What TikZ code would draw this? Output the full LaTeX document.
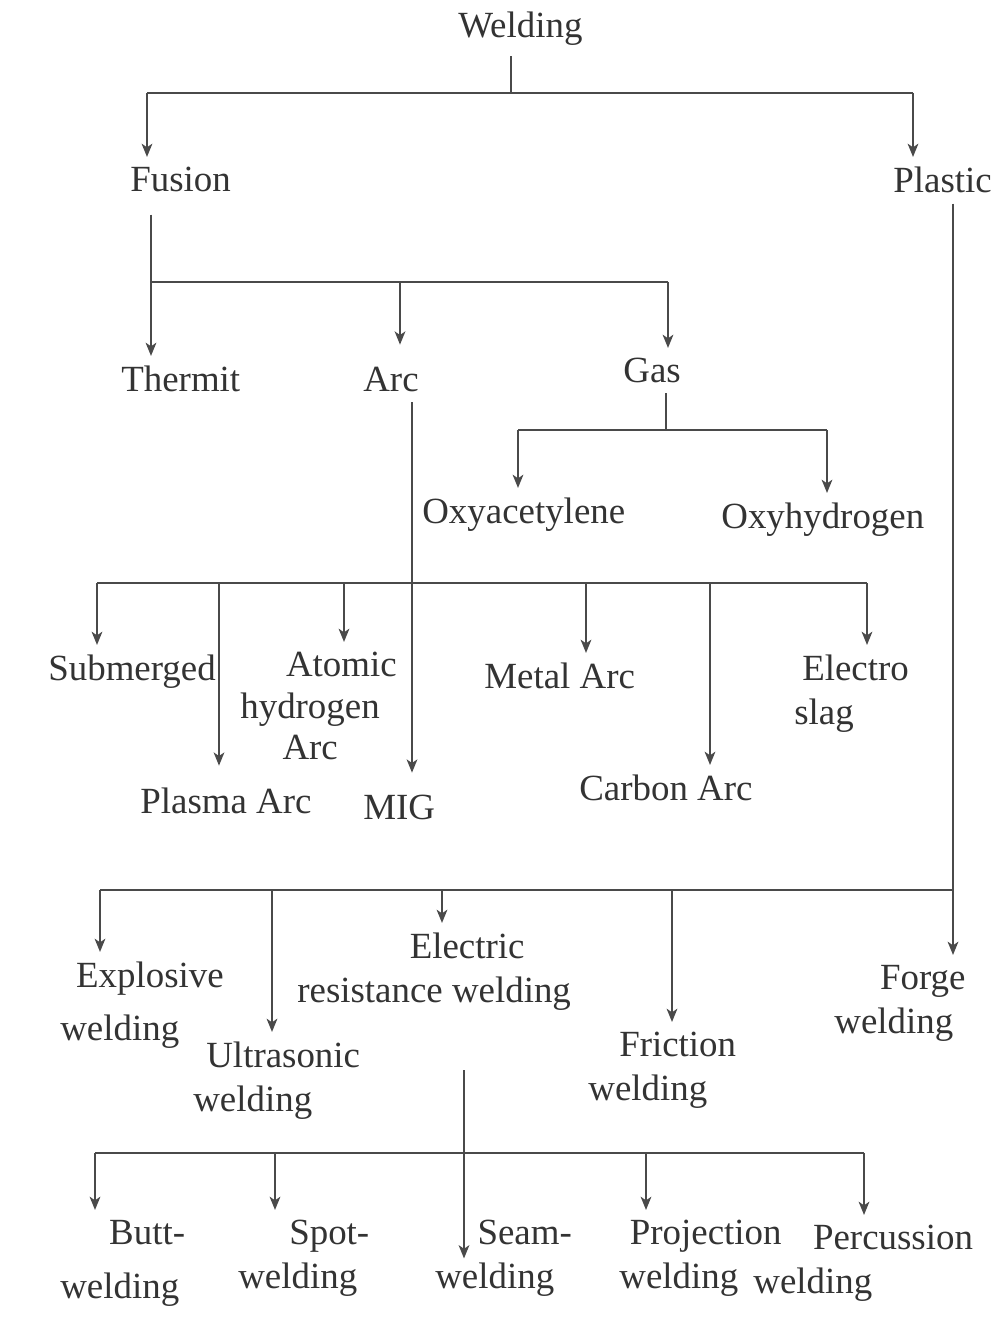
\documentclass[tikz,border=0pt]{standalone}
\usepackage{fontspec}
\setmainfont{Liberation Serif}
\usetikzlibrary{arrows.meta}
\definecolor{inkgray}{HTML}{333333}
\definecolor{linegray}{HTML}{4A4A4A}

\begin{document}
\begin{tikzpicture}[
x=0.02cm, y=-0.02cm,
font=\fontsize{21pt}{25pt}\selectfont,
lbl/.style={
anchor=north west, align=left,
inner xsep=0pt, inner ysep=5.67pt,
text=inkgray
},
wire/.style={draw=linegray, line width=1.4pt},
arrow/.style={wire, -{Stealth[length=7.5pt,width=6pt,inset=2pt]}}
]

\useasboundingbox (0,0) rectangle (996,1334);

% =======================
% TOP LEVELS
% =======================

\node[lbl] (welding) at (458,2) {Welding};
\node[lbl] (fusion) at (130,157) {Fusion};
\node[lbl] (plastic) at (893,157) {Plastic};

\node[lbl] (thermit) at (121,356) {Thermit};
\node[lbl] (arc) at (363,357) {Arc};
\node[lbl] (gas) at (623,348) {Gas};

% =======================
% GAS
% =======================

\node[lbl] (oxyac) at (422,488) {Oxyacetylene};
\node[lbl] (oxyhy) at (721,493) {Oxyhydrogen};

% =======================
% ARC
% =======================

\node[lbl] (submerged) at (48,645) {Submerged};
\node[lbl] (atomic) at (240,642) {\hspace*{26pt}Atomic\\[-1.5pt]hydrogen\\[-1.5pt]\hspace*{24pt}Arc};
\node[lbl] (metal) at (484,653) {Metal Arc};
\node[lbl] (electro) at (794,645) {\hspace*{4.5pt}Electro\\slag};
\node[lbl] (plasma) at (140,778) {Plasma Arc};
\node[lbl] (mig) at (363,785) {MIG};
\node[lbl] (carbon) at (579,765) {Carbon Arc};

% =======================
% PLASTIC
% =======================

\node[lbl] (explosive) at (60,952) {\hspace*{9pt}Explosive\\[5pt]welding};
\node[lbl] (ultrasonic) at (193,1032) {\hspace*{7.4pt}Ultrasonic\\welding};
\node[lbl] (electric) at (297,923) {\hspace*{64pt}Electric\\resistance welding};
\node[lbl] (friction) at (588,1022) {\hspace*{17.6pt}Friction\\welding};
\node[lbl] (forge) at (834,955) {\hspace*{26pt}Forge\\welding};

% =======================
% RESISTANCE
% =======================

\node[lbl] (butt) at (60,1210) {\hspace*{27.8pt}Butt-\\[6pt]welding};
\node[lbl] (spot) at (238,1210) {\hspace*{29pt}Spot-\\welding};
\node[lbl] (seam) at (435,1210) {\hspace*{24pt}Seam-\\welding};
\node[lbl] (projection) at (619,1210) {\hspace*{6pt}Projection\\welding};
\node[lbl] (percussion) at (753,1215) {\hspace*{34pt}Percussion\\welding};

% =======================
% BUS POINTS
% =======================

\coordinate (weld-bus) at (511,93);
\coordinate (fusion-in) at (147,93);
\coordinate (plastic-in) at (913,93);

\coordinate (fusion-bus) at (151,282);
\coordinate (arc-in) at (400,282);
\coordinate (gas-in) at (668,282);

\coordinate (gas-bus) at (666,430);
\coordinate (oxyac-in) at (518,430);
\coordinate (oxyhy-in) at (827,430);

\coordinate (arc-bus) at (412,583);
\coordinate (sub-in) at (97,583);
\coordinate (plasma-in) at (219,583);
\coordinate (atomic-in) at (344,583);
\coordinate (metal-in) at (586,583);
\coordinate (carbon-in) at (710,583);
\coordinate (electro-in) at (867,583);

\coordinate (plastic-bus) at (953,890);
\coordinate (explosive-in) at (100,890);
\coordinate (ultra-in) at (272,890);
\coordinate (electric-in) at (442,890);
\coordinate (friction-in) at (672,890);

\coordinate (erw-bus) at (464,1153);
\coordinate (butt-in) at (95,1153);
\coordinate (spot-in) at (275,1153);
\coordinate (proj-in) at (646,1153);
\coordinate (perc-in) at (864,1153);

% =======================
% ARROWS
% =======================

\draw[wire] (weld-bus |- welding.south) -- (weld-bus);
\draw[wire] (fusion-in) -- (plastic-in);
\draw[arrow] (fusion-in) -- (fusion-in |- fusion.north);
\draw[arrow] (plastic-in) -- (plastic-in |- plastic.north);

\draw[arrow, shorten <=7pt] (fusion-bus |- fusion.south) -- (fusion-bus |- thermit.north);
\draw[wire] (fusion-bus) -- (gas-in);
\draw[arrow, shorten >=7pt] (arc-in) -- (arc-in |- arc.north);
\draw[arrow] (gas-in) -- (gas-in |- gas.north);

\draw[wire] (gas-bus |- gas.south) -- (gas-bus);
\draw[wire] (oxyac-in) -- (oxyhy-in);
\draw[arrow] (oxyac-in) -- (oxyac-in |- oxyac.north);
\draw[arrow] (oxyhy-in) -- (oxyhy-in |- oxyhy.north);

\draw[arrow, shorten >=7pt] (arc-bus |- arc.south) -- (arc-bus |- mig.north);
\draw[wire] (sub-in) -- (electro-in);
\draw[arrow] (sub-in) -- (sub-in |- submerged.north);
\draw[arrow, shorten >=7pt] (plasma-in) -- (plasma-in |- plasma.north);
\draw[arrow] (atomic-in) -- (atomic-in |- atomic.north);
\draw[arrow] (metal-in) -- (metal-in |- metal.north);
\draw[arrow] (carbon-in) -- (carbon-in |- carbon.north);
\draw[arrow] (electro-in) -- (electro-in |- electro.north);

\draw[arrow] (plastic-bus |- plastic.south) -- (plastic-bus |- forge.north);
\draw[wire] (explosive-in) -- (plastic-bus);
\draw[arrow] (explosive-in) -- (explosive-in |- explosive.north);
\draw[arrow] (ultra-in) -- (ultra-in |- ultrasonic.north);
\draw[arrow] (electric-in) -- (electric-in |- electric.north);
\draw[arrow] (friction-in) -- (friction-in |- friction.north);

\draw[arrow, shorten <=28pt] (erw-bus |- electric.south) -- (erw-bus |- seam.west);
\draw[wire] (butt-in) -- (perc-in);
\draw[arrow] (butt-in) -- (butt-in |- butt.north);
\draw[arrow] (spot-in) -- (spot-in |- spot.north);
\draw[arrow] (proj-in) -- (proj-in |- projection.north);
\draw[arrow] (perc-in) -- (perc-in |- percussion.north);

\end{tikzpicture}
\end{document}
